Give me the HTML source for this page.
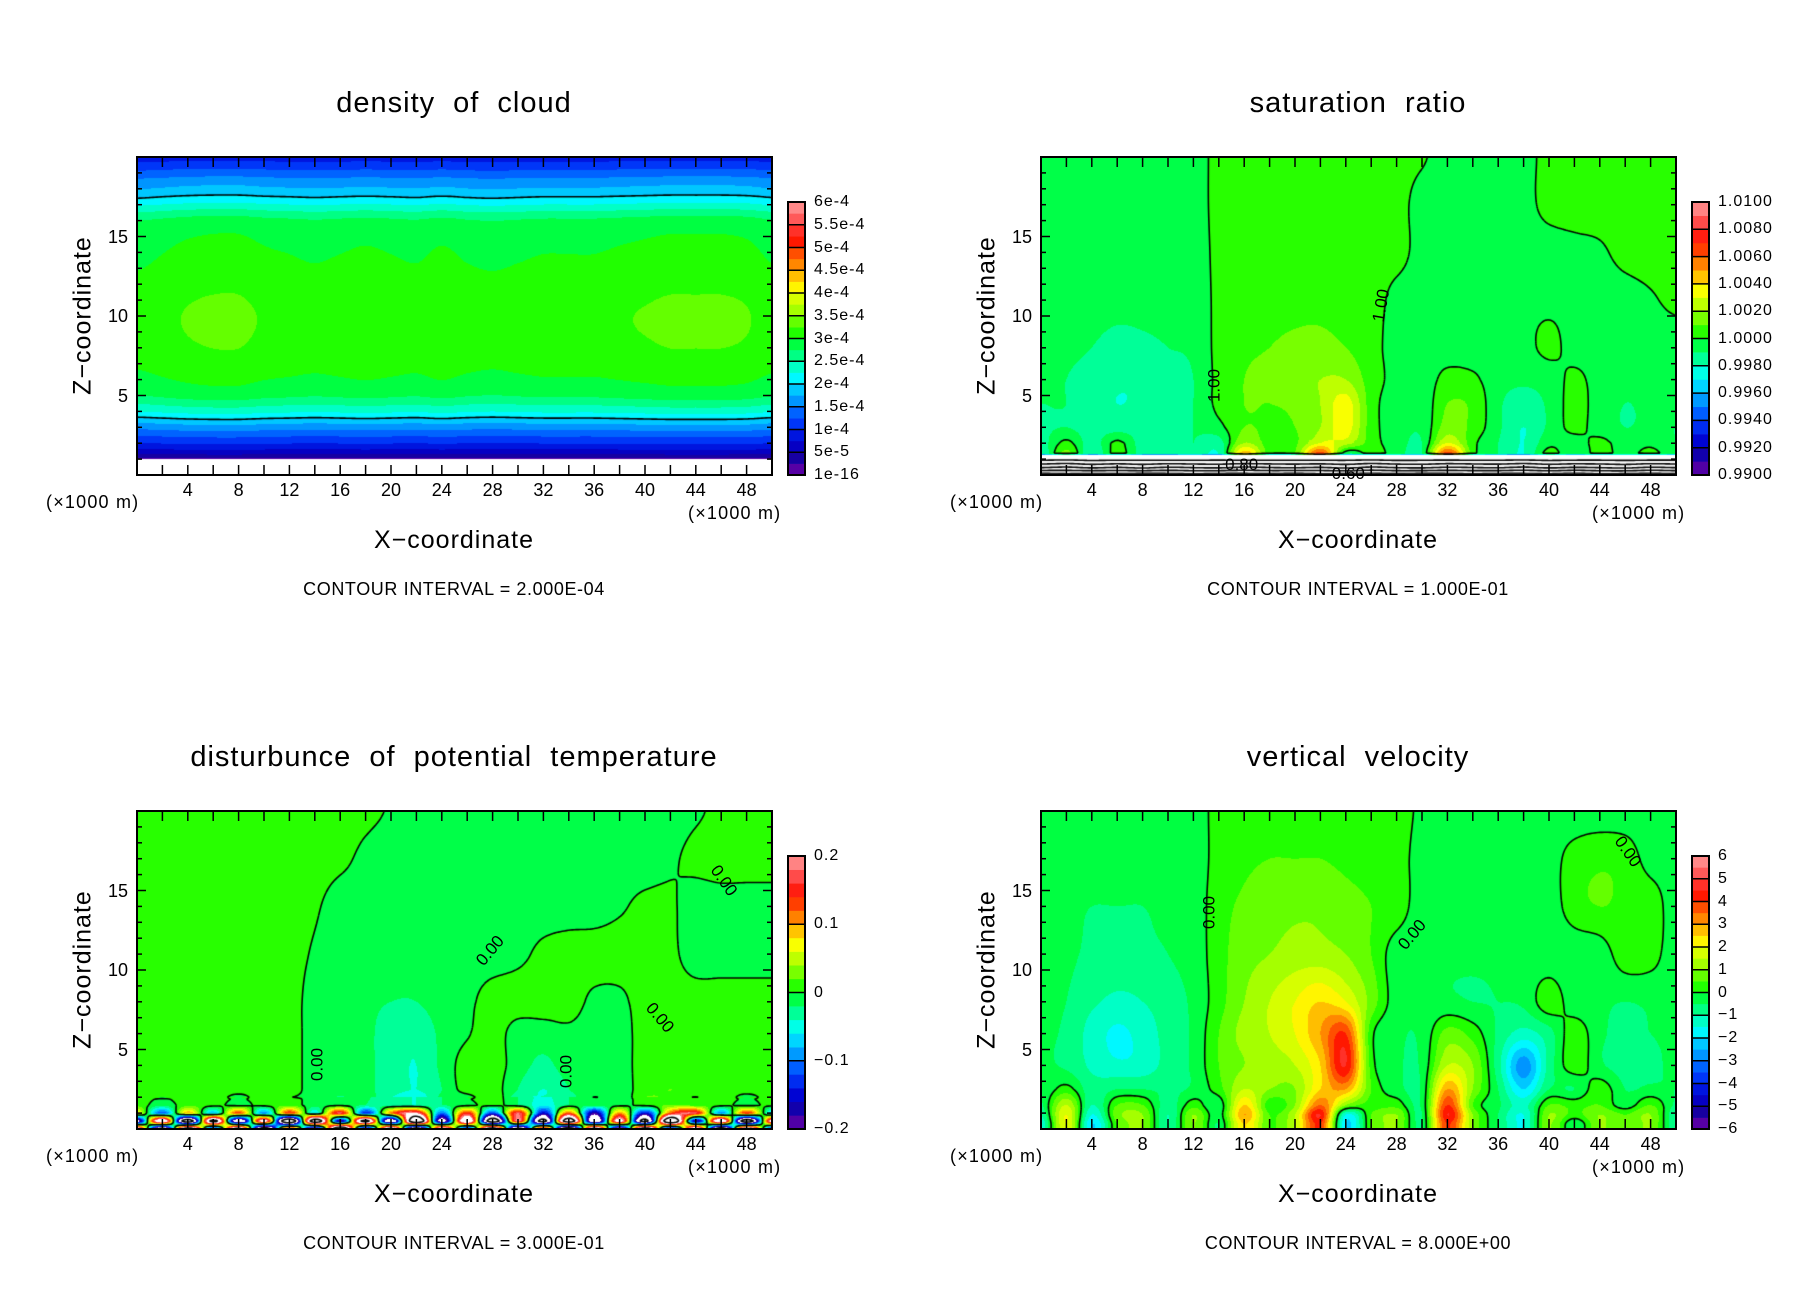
<!DOCTYPE html>
<html><head><meta charset="utf-8">
<style>
html,body{margin:0;padding:0;background:#fff;}
body{width:1808px;height:1308px;position:relative;overflow:hidden;font-family:"Liberation Sans",sans-serif;color:#000;}
.t{position:absolute;white-space:nowrap;line-height:1;}
canvas{position:absolute;}
svg{position:absolute;overflow:visible;}
</style></head>
<body>
<script>
// ---------- shared grid ----------
const xGrid=[0,2,4,6,8,10,12,14,16,18,20,22,24,26,28,30,32,34,36,38,40,42,44,46,48,50];
const xTickLabels=["4","8","12","16","20","24","28","32","36","40","44","48"];
const zTickLabels=["5","10","15"];

// ---------- density of cloud (units 1e-4) ----------
const densityZ=[0.8,1.0,1.3,1.8,2.5,3.3,4,5,7,10,13,16,17.5,18.5,19.3,20];
const densityProfile=[-1,0.1,0.5,0.9,1.3,1.8,2.3,2.8,3.1,3.2,3.05,2.8,2.0,1.6,1.2,0.9];
const densityXFactor=[0.98,1.0,1.02,1.03,1.03,1.01,1.0,0.99,1.0,1.01,1.0,0.99,1.01,0.99,0.98,0.99,1.0,1.0,1.0,1.01,1.02,1.03,1.03,1.03,1.02,0.99];
const densityCbarLabels=["1e-16","5e-5","1e-4","1.5e-4","2e-4","2.5e-4","3e-4","3.5e-4","4e-4","4.5e-4","5e-4","5.5e-4","6e-4"];

// ---------- saturation ratio (deviation from 1, per-mille) ----------
const satZ=[0,0.5,1.0,1.3,2,3,4.5,6,8,11,14,17,20];
const satDevRows=[
[-560,-540,-555,-545,-560,-550,-540,-555,-550,-545,-560,-540,-550,-555,-545,-560,-550,-540,-555,-550,-545,-560,-540,-550,-555,-545],
[-280,-300,-270,-290,-265,-295,-280,-270,-300,-285,-275,-290,-265,-300,-280,-270,-295,-285,-275,-300,-270,-290,-280,-265,-295,-280],
[-70,-75,-65,-70,-72,-68,-70,-74,-66,-70,-72,-68,-70,-75,-65,-70,-72,-68,-70,-74,-66,-70,-72,-68,-70,-72],
[-2,1.5,-2,0.5,-1.5,-2,-1,-2,5,0.5,1,7,-1,0.5,-0.5,-1,7,0.5,-1,-2,0.5,-1,0.5,-0.5,0.5,-1],
[-1.5,0.3,-1.5,0.3,-1.5,-1.5,-1,-1.5,2,0.5,0.8,3,2.5,0.5,-0.5,-1,3,0.3,-1,-2,-0.3,-0.5,0.3,-0.5,-0.3,-1],
[-1.2,-1,-1.5,-1.5,-1.5,-1.5,-1,-0.3,1,0.8,1,2,3.5,0.5,-0.5,-0.8,1.5,0.7,-0.8,-2,-0.8,0.3,-0.5,-1,-0.8,-1],
[-1,-1,-1.5,-2,-1.8,-1.5,-1,0.3,1,1,1.2,2,3.5,0.5,-0.5,-0.7,1,0.8,-0.8,-1.5,-0.8,0.4,-0.5,-1,-0.8,-0.8],
[-0.8,-1,-1.3,-1.8,-1.8,-1.3,-1,0.3,1,1.2,1.5,2,2,0.5,-0.3,-0.5,0.3,0.2,-0.6,-0.8,-0.5,0.2,-0.4,-0.7,-0.6,-0.6],
[-0.6,-0.8,-1,-1.3,-1.2,-1,-0.8,0.3,0.8,1,1.2,1.3,1,0.3,-0.3,-0.4,-0.4,-0.5,-0.5,-0.3,0.2,-0.3,-0.4,-0.5,-0.5,-0.5],
[-0.5,-0.5,-0.6,-0.7,-0.7,-0.6,-0.5,0.2,0.5,0.6,0.7,0.7,0.5,0.3,-0.2,-0.3,-0.3,-0.3,-0.3,-0.2,-0.2,-0.2,-0.3,-0.3,-0.1,0.2],
[-0.4,-0.4,-0.5,-0.5,-0.5,-0.5,-0.4,0.2,0.4,0.5,0.5,0.5,0.4,0.3,0.2,-0.2,-0.3,-0.3,-0.3,-0.3,-0.3,-0.2,-0.1,0.2,0.3,0.3],
[-0.3,-0.3,-0.3,-0.3,-0.3,-0.3,-0.3,0.2,0.3,0.3,0.3,0.3,0.3,0.3,0.2,-0.2,-0.2,-0.2,-0.2,-0.2,0.2,0.3,0.3,0.3,0.3,0.3],
[-0.3,-0.3,-0.3,-0.3,-0.3,-0.3,-0.3,0.2,0.3,0.3,0.3,0.3,0.3,0.3,0.2,0.05,-0.2,-0.2,-0.2,-0.2,0.2,0.3,0.3,0.3,0.3,0.3]];
const satCbarLabels=["0.9900","0.9920","0.9940","0.9960","0.9980","1.0000","1.0020","1.0040","1.0060","1.0080","1.0100"];

// ---------- disturbance of potential temperature (units 0.01) ----------
const ptZ=[0,0.5,1.0,1.5,2.5,4,6,8,11,14,17,20];
const ptRows=[
[30,-35,40,-20,35,-40,25,-30,45,-25,35,-40,30,-20,40,-35,25,-45,35,-30,40,-25,30,-40,35,-20],
[-25,30,-40,35,-30,25,-45,40,-20,35,-30,45,-25,30,-40,20,-35,40,-30,25,-35,45,-20,30,-40,25],
[8,-12,10,-8,14,-10,15,-6,18,-14,12,20,-10,15,-12,18,-15,12,-18,10,-15,12,18,-10,15,-8],
[1,-1,1,1,-1,1,1,-1,-1,-2,-3,-4,-2,-1,1,-2,-5,-2,-1,-1,1,2,1,1,-1,1],
[1,1,1,1,1,1,1,-1,-1,-1.5,-3,-4,-2,1,1,-2,-4,-2,-1,-1,1,2,1,1,1,1],
[1,1,1,1,1,1,1,-1,-1,-1.5,-3,-4,-1.5,1,1,-1,-2.5,-1,-1,-1,1,1,1,1,1,1],
[1,1,1,1,1,1,1,-1,-1,-1.5,-3,-3.5,-1.5,-0.2,1,-1,-1,-0.5,-1,-1,1,1,1,1,1,1],
[1,1,1,1,1,1,1,-1,-1,-1.5,-2,-2,-1,-0.5,1,1,1,1,-0.5,-0.5,1,1,1,1,1,1],
[1,1,1,1,1,1,1,-0.3,-1,-1,-1,-1,-1,-1,-1,-0.5,0.5,1,1,1,1,0.5,-1,-1,-1,-1],
[1,1,1,1,1,1,1,0.3,-1,-1,-1,-1,-1,-1,-1,-1,-1,-1,-1,-0.3,0.5,0.3,-1,-1,-1,-1],
[1,1,1,1,1,1,1,1,0.5,-0.5,-1,-1,-1,-1,-1,-1,-1,-1,-1,-1,-1,-0.3,0.5,1,1,1],
[1,1,1,1,1,1,1,1,1,0.5,-0.2,-1,-1,-1,-1,-1,-1,-1,-1,-1,-1,-1,-0.3,0.5,1,1]];
const ptCbarLabels=["\u22120.2","\u22120.1","0","0.1","0.2"];

// ---------- vertical velocity ----------
const wZ=[0.3,0.9,1.5,2.5,4,6,8,11,14,17,20];
const wRows=[
[-1.5,2,-2,0.5,1,-1,1,-0.5,2.5,0.5,1.5,4,-2,0.5,1,-0.5,4,1,-0.5,-1.5,1,-0.5,1,0.5,1,-1],
[-1,2,-1.5,0.8,1,-1,1,-0.3,3,0.5,1.5,4.5,-1.5,0.5,1,-0.5,4.5,1,-0.5,-1.5,1,0.3,1,0.5,1,-1],
[-0.6,1.5,-1,0.5,0.5,-0.8,0.3,-0.4,2.5,0.2,1,3.5,1,0.3,0.3,-0.4,4,0.5,-0.4,-1.2,0.5,0.3,0.5,-0.3,0.5,-0.6],
[-0.5,0.2,-0.8,-0.5,-0.5,-0.6,-0.4,0.3,1.5,1,1,2.5,3,0.5,-0.3,-0.4,3,1,-0.5,-2,-0.5,-0.5,0.3,-0.5,-0.4,-0.5],
[-0.4,-0.6,-1.1,-1.4,-1.3,-0.8,-0.4,0.5,1,1.2,1.5,2.5,4.5,0.3,-0.4,-0.4,1.5,1,-0.8,-2.8,-0.8,0.3,-0.4,-0.7,-0.6,-0.4],
[-0.4,-0.6,-1.2,-1.6,-1.3,-0.8,-0.4,0.5,1.2,1.5,2,3,4,0.2,-0.4,-0.4,0.7,0.3,-0.6,-1.2,-0.7,0.3,-0.4,-0.6,-0.5,-0.4],
[-0.3,-0.5,-0.9,-1.1,-1,-0.7,-0.4,0.3,1,1.5,2,2.5,2,0.8,-0.3,-0.4,-0.4,-0.5,-0.5,-0.4,0.3,-0.3,-0.4,-0.5,-0.4,-0.3],
[-0.3,-0.4,-0.6,-0.7,-0.6,-0.5,-0.3,0.3,0.8,1,1.2,1.2,1,0.5,-0.3,-0.4,-0.4,-0.4,-0.4,-0.4,-0.4,-0.4,-0.3,0.3,0.2,-0.3],
[-0.3,-0.4,-0.5,-0.5,-0.5,-0.4,-0.3,0.3,0.6,0.8,0.9,0.9,0.7,0.5,0.3,-0.3,-0.3,-0.3,-0.3,-0.3,-0.3,0.3,0.5,0.4,0.3,-0.3],
[-0.3,-0.3,-0.3,-0.3,-0.3,-0.3,-0.3,0.2,0.4,0.5,0.5,0.5,0.4,0.3,0.2,-0.2,-0.3,-0.3,-0.3,-0.3,-0.2,0.2,0.4,0.3,-0.2,-0.2],
[-0.3,-0.3,-0.3,-0.3,-0.3,-0.3,-0.3,0.2,0.3,0.3,0.3,0.3,0.3,0.3,0.2,-0.1,-0.3,-0.3,-0.3,-0.3,-0.3,-0.3,-0.3,-0.3,-0.3,-0.3]];
const wCbarLabels=["\u22126","\u22125","\u22124","\u22123","\u22122","\u22121","0","1","2","3","4","5","6"];

// ---------- layout ----------
const PL=137, PTOP=157, PW=635, PH=318, XMAX=50, ZMAX=20;
const CBX=788, CBW=17, CBTOP=202, CBBOT=475;

const stops=[[0,[120,0,168]],[0.06,[24,0,160]],[0.12,[0,0,208]],[0.2,[0,64,255]],[0.28,[0,160,255]],[0.36,[0,255,255]],[0.42,[0,255,160]],[0.48,[0,255,64]],[0.52,[32,255,0]],[0.6,[160,255,0]],[0.68,[255,255,0]],[0.74,[255,176,0]],[0.8,[255,96,0]],[0.86,[255,16,0]],[0.93,[255,80,80]],[1,[255,160,160]]];
function cmap(t){
  for(let i=0;i<stops.length-1;i++){
    const a=stops[i],b=stops[i+1];
    if(t<=b[0]){const u=(t-a[0])/(b[0]-a[0]);return [0,1,2].map(k=>Math.round(a[1][k]+(b[1][k]-a[1][k])*u));}
  }
  return stops[stops.length-1][1];
}
function seg(arr,v){let i=0;while(i<arr.length-2&&v>arr[i+1])i++;let t=(v-arr[i])/(arr[i+1]-arr[i]);t=Math.max(0,Math.min(1,t));return [i,t];}
function cr(p0,p1,p2,p3,t){return 0.5*((2*p1)+(-p0+p2)*t+(2*p0-5*p1+4*p2-p3)*t*t+(-p0+3*p1-3*p2+p3)*t*t*t);}
function cubic1(ys,i,t){const n=ys.length;const g=k=>ys[Math.max(0,Math.min(n-1,k))];return cr(g(i-1),g(i),g(i+1),g(i+2),t);}
function interp1(xs,ys,v){const [i,t]=seg(xs,v);return cubic1(ys,i,t);}
function bicubic(rows,zs,x,z){
  const [i,tx]=seg(xGrid,x);const [j,tz]=seg(zs,z);const m=rows.length;
  const col=[];for(let k=j-1;k<=j+2;k++){const r=rows[Math.max(0,Math.min(m-1,k))];col.push(cubic1(r,i,tx));}
  return cr(col[0],col[1],col[2],col[3],tz);
}
// cubic in x, linear in z (avoids overshoot at sharp vertical jumps)
function cubicXlinZ(rows,zs,x,z){
  const [i,tx]=seg(xGrid,x);const [j,tz]=seg(zs,z);
  return cubic1(rows[j],i,tx)*(1-tz)+cubic1(rows[j+1],i,tx)*tz;
}

const panels=[
 {key:'density',title:'density of cloud',ox:0,oy:0,min:0,max:6,bands:24,levels:[2,4],cbar:densityCbarLabels,interval:'2.000E-04',
  f:(x,z)=>interp1(densityZ,densityProfile,z)*interp1(xGrid,densityXFactor,x),labels:[]},
 {key:'saturation',title:'saturation ratio',ox:904,oy:0,min:0.99,max:1.01,bands:20,levels:[0.5,0.6,0.7,0.8,0.9,1.0],cbar:satCbarLabels,interval:'1.000E-01',
  f:(x,z)=>1+(z<2.2?cubicXlinZ(satDevRows,satZ,x,z):bicubic(satDevRows,satZ,x,z))/1000,
  labels:[["1.00",13.6,5.6,-90],["1.00",26.8,10.6,-80],["0.80",15.8,0.6,0],["0.60",24.2,0.05,0]]},
 {key:'potential-temperature',title:'disturbunce of potential temperature',ox:0,oy:654,min:-20,max:20,bands:20,levels:[-30,0,30],cbar:ptCbarLabels,interval:'3.000E-01',
  f:(x,z)=>(z<2?cubicXlinZ(ptRows,ptZ,x,z):bicubic(ptRows,ptZ,x,z)),
  labels:[["0.00",14.2,4.0,-90],["0.00",27.8,11.2,-50],["0.00",33.8,3.6,-90],["0.00",41.2,7.0,50],["0.00",46.2,15.6,55]]},
 {key:'vertical-velocity',title:'vertical velocity',ox:904,oy:654,min:-6,max:6,bands:24,levels:[-8,0,8],cbar:wCbarLabels,interval:'8.000E+00',
  f:(x,z)=>bicubic(wRows,wZ,x,z),
  labels:[["0.00",13.2,13.6,-90],["0.00",29.2,12.2,-50],["0.00",46.2,17.4,55]]}
];

function addText(txt,css,name){
  const d=document.createElement('div');d.className='t';d.textContent=txt;
  Object.assign(d.style,css);
  
  
  document.body.appendChild(d);return d;
}
const SVGNS='http://www.w3.org/2000/svg';
function sv(tag,attrs,parent){const e=document.createElementNS(SVGNS,tag);for(const k in attrs)e.setAttribute(k,attrs[k]);parent.appendChild(e);return e;}

panels.forEach(p=>{
  const ox=p.ox, oy=p.oy;
  const xs=v=>PL+v/XMAX*PW, zs=v=>PTOP+PH-v/ZMAX*PH;
  const cv=document.createElement('canvas');cv.width=PW;cv.height=PH;
  cv.style.left=(ox+PL)+'px';cv.style.top=(oy+PTOP)+'px';
  
  
  document.body.appendChild(cv);
  const ctx=cv.getContext('2d');const img=ctx.createImageData(PW,PH);
  const bandCols=[];for(let k=0;k<p.bands;k++)bandCols.push(cmap((k+0.5)/p.bands));
  for(let py=0;py<PH;py++){const z=ZMAX-(py+0.5)/PH*ZMAX;
    for(let px=0;px<PW;px++){const x=(px+0.5)/PW*XMAX;const v=p.f(x,z);
      let c=[255,255,255];
      if(v>=p.min&&v<=p.max){let k=Math.floor((v-p.min)/(p.max-p.min)*p.bands);if(k>=p.bands)k=p.bands-1;c=bandCols[k];}
      const o=(py*PW+px)*4;img.data[o]=c[0];img.data[o+1]=c[1];img.data[o+2]=c[2];img.data[o+3]=255;}}
  ctx.putImageData(img,0,0);
  const NX=318,NZ=160,g=[];
  for(let j=0;j<=NZ;j++){const row=[];const z=ZMAX-j/NZ*ZMAX;for(let i=0;i<=NX;i++)row.push(p.f(i/NX*XMAX,z));g.push(row);}
  const sx=PW/NX, sz=PH/NZ;
  ctx.strokeStyle='#000';ctx.lineWidth=1.6;ctx.lineJoin='round';
  p.levels.forEach(L=>{
    ctx.beginPath();
    for(let j=0;j<NZ;j++)for(let i=0;i<NX;i++){
      const a=g[j][i],b=g[j][i+1],c=g[j+1][i+1],d=g[j+1][i];const pts=[];
      if((a<L)!==(b<L)){const t=(L-a)/(b-a);pts.push([(i+t)*sx,j*sz]);}
      if((b<L)!==(c<L)){const t=(L-b)/(c-b);pts.push([(i+1)*sx,(j+t)*sz]);}
      if((d<L)!==(c<L)){const t=(L-d)/(c-d);pts.push([(i+t)*sx,(j+1)*sz]);}
      if((a<L)!==(d<L)){const t=(L-a)/(d-a);pts.push([i*sx,(j+t)*sz]);}
      for(let k=0;k+1<pts.length;k+=2){ctx.moveTo(pts[k][0],pts[k][1]);ctx.lineTo(pts[k+1][0],pts[k+1][1]);}
    }
    ctx.stroke();
  });
  const s=document.createElementNS(SVGNS,'svg');
  s.setAttribute('width','904');s.setAttribute('height','654');
  s.style.left=ox+'px';s.style.top=oy+'px';
  
  
  document.body.appendChild(s);
  for(let x=2;x<XMAX;x+=2){
    const t1=sv('line',{x1:xs(x),x2:xs(x),y1:PTOP,y2:PTOP+10,stroke:'#000','stroke-width':1.5},s);
    
    
    const t2=sv('line',{x1:xs(x),x2:xs(x),y1:PTOP+PH,y2:PTOP+PH-10,stroke:'#000','stroke-width':1.5},s);
    
    
  }
  for(let z=1;z<ZMAX;z++){
    const len=z%5===0?9:5;
    const t1=sv('line',{x1:PL,x2:PL+len,y1:zs(z),y2:zs(z),stroke:'#000','stroke-width':1.5},s);
    
    
    const t2=sv('line',{x1:PL+PW,x2:PL+PW-len,y1:zs(z),y2:zs(z),stroke:'#000','stroke-width':1.5},s);
    
    
  }
  const fr=sv('rect',{x:PL,y:PTOP,width:PW,height:PH,fill:'none',stroke:'#000','stroke-width':2},s);
  
  
  const bh=(CBBOT-CBTOP)/p.bands;
  for(let k=0;k<p.bands;k++){const c=cmap((k+0.5)/p.bands);
    const r=sv('rect',{x:CBX,y:CBBOT-(k+1)*bh,width:CBW,height:bh+0.3,fill:`rgb(${c[0]},${c[1]},${c[2]})`},s);
    
    }
  const nInt=p.cbar.length-1;
  p.cbar.forEach((lab,k)=>{const y=CBBOT-k*(CBBOT-CBTOP)/nInt;
    const ln=sv('line',{x1:CBX,x2:CBX+CBW,y1:y,y2:y,stroke:'#000','stroke-width':1.5},s);
    
    
    addText(lab,{left:(ox+CBX+CBW+9)+'px',top:(oy+y-8)+'px',fontSize:'16px',letterSpacing:'1px'},'colorbar-label');
  });
  const cf=sv('rect',{x:CBX,y:CBTOP,width:CBW,height:CBBOT-CBTOP,fill:'none',stroke:'#000','stroke-width':2},s);
  
  
  xTickLabels.forEach(l=>{addText(l,{left:(ox+xs(+l)-20)+'px',width:'40px',textAlign:'center',top:(oy+481)+'px',fontSize:'18px'},'x-tick-label');});
  zTickLabels.forEach(l=>{addText(l,{left:(ox+88)+'px',width:'40px',textAlign:'right',top:(oy+zs(+l)-9)+'px',fontSize:'18px'},'z-tick-label');});
  addText(p.title,{left:(ox+54)+'px',width:'800px',textAlign:'center',top:(oy+89)+'px',fontSize:'29px',wordSpacing:'9px',letterSpacing:'1px'},'chart-title');
  addText('(\u00d71000 m)',{left:(ox+46)+'px',top:(oy+493)+'px',fontSize:'18px',letterSpacing:'1.2px'},'x-unit-left');
  addText('(\u00d71000 m)',{left:(ox+688)+'px',top:(oy+504)+'px',fontSize:'18px',letterSpacing:'1.2px'},'x-unit-right');
  addText('X\u2212coordinate',{left:(ox+254)+'px',width:'400px',textAlign:'center',top:(oy+528)+'px',fontSize:'25px',letterSpacing:'1px'},'x-axis-title');
  addText('CONTOUR INTERVAL = '+p.interval,{left:(ox+204)+'px',width:'500px',textAlign:'center',top:(oy+580)+'px',fontSize:'18px',letterSpacing:'0.6px'},'contour-interval-note');
  addText('Z\u2212coordinate',{left:(ox+83-100)+'px',width:'200px',textAlign:'center',top:(oy+315-12)+'px',fontSize:'25px',letterSpacing:'1px',transform:'rotate(-90deg)'},'z-axis-title');
  p.labels.forEach(l=>{addText(l[0],{left:(ox+xs(l[1])-20)+'px',width:'40px',textAlign:'center',top:(oy+zs(l[2])-9)+'px',fontSize:'17px',transform:'rotate('+l[3]+'deg)'},'contour-label');});
});
</script>
</body></html>
